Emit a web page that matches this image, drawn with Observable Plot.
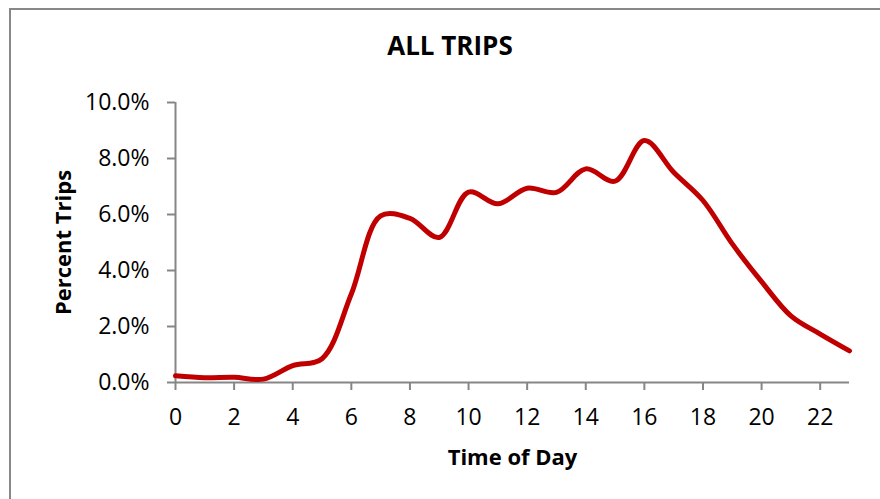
<!DOCTYPE html>
<html>
<head>
<meta charset="utf-8">
<script src="https://cdn.jsdelivr.net/npm/d3@7"></script>
<script src="https://cdn.jsdelivr.net/npm/@observablehq/plot@0.6"></script>
<style>
  html, body { margin: 0; padding: 0; background: #fff; }
  body { width: 880px; height: 499px; overflow: hidden; position: relative; font-family: "Open Sans", Lato, sans-serif; }
  #frame { position: absolute; left: 9px; top: 8px; width: 1000px; height: 1000px;
           border-left: 2px solid #888; border-top: 2px solid #888; box-sizing: border-box; }
  #title { position: relative; height: 80px; box-sizing: border-box; padding-top: 31px; padding-left: 20px;
           text-align: center; font-weight: bold; font-size: 26px; line-height: 28px; color: #000; }
  #chart { position: relative; }
  #chart svg { display: block; }
</style>
</head>
<body>
<div id="frame"></div>
<div id="title">ALL TRIPS</div>
<div id="chart"></div>
<script>
const chartTitle = "ALL TRIPS";
const xLabel = "Time of Day";
const yLabel = "Percent Trips";
const hours = [0, 1, 2, 3, 4, 5, 6, 7, 8, 9, 10, 11, 12, 13, 14, 15, 16, 17, 18, 19, 20, 21, 22, 23];
const percentTrips = [0.24, 0.17, 0.19, 0.12, 0.60, 0.85, 3.16, 5.95, 5.86, 5.18, 6.80, 6.38, 6.94, 6.79, 7.63, 7.19, 8.64, 7.51, 6.50, 4.95, 3.60, 2.38, 1.73, 1.13];
const xTicks = [0, 2, 4, 6, 8, 10, 12, 14, 16, 18, 20, 22];
const yTicks = [0, 0.02, 0.04, 0.06, 0.08, 0.10];

const data = hours.map((h, i) => ({hour: h, pct: percentTrips[i] / 100}));
const axisColor = "#868686";
const font = "'Open Sans', Lato, sans-serif";

document.getElementById("title").textContent = chartTitle;

const plot = Plot.plot({
  width: 880,
  height: 419,
  marginLeft: 175,
  marginRight: 31,
  marginTop: 22,
  marginBottom: 117,
  style: { fontFamily: font, fontSize: "23px", color: "#000", background: "transparent" },
  x: { domain: [0, 23] },
  y: { domain: [0, 0.10] },
  marks: [
    Plot.axisX({ ticks: xTicks, tickSize: 8, tickPadding: 18, stroke: axisColor, strokeWidth: 2,
                 fill: "#000", fontSize: 23, label: null }),
    Plot.axisY({ ticks: yTicks, tickSize: 8, tickPadding: 18, stroke: axisColor, strokeWidth: 2,
                 fill: "#000", fontSize: 23, tickFormat: d3.format(".1%"), label: null }),
    Plot.ruleX([0], { stroke: axisColor, strokeWidth: 2 }),
    Plot.ruleY([0], { stroke: axisColor, strokeWidth: 2 }),
    Plot.line(data, { x: "hour", y: "pct", stroke: "#C00000", strokeWidth: 5,
                      curve: "catmull-rom", strokeLinecap: "round", strokeLinejoin: "round" }),
    Plot.text([xLabel], { frameAnchor: "bottom", dy: 75, lineAnchor: "middle", textAnchor: "middle",
                          text: d => d, fontWeight: "bold", fontSize: 22, fill: "#000" }),
    Plot.text([yLabel], { frameAnchor: "left", dx: -112, lineAnchor: "middle", textAnchor: "middle",
                          text: d => d, fontWeight: "bold", fontSize: 22, rotate: -90, fill: "#000" })
  ]
});
document.getElementById("chart").appendChild(plot);
</script>
</body>
</html>
